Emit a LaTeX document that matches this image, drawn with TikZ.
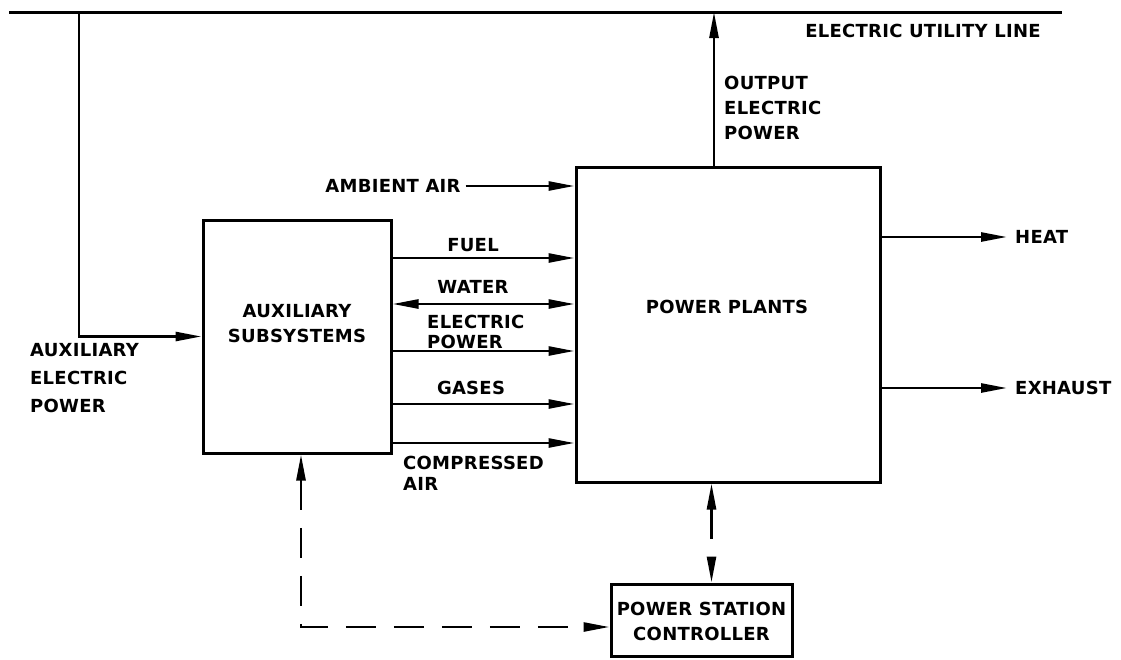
\documentclass[tikz,border=0pt]{standalone}
\usepackage{fontspec}
\newfontfamily\lblfont[LetterSpace=1.5]{DejaVu Sans}
\usetikzlibrary{arrows.meta}

\begin{document}
\begin{tikzpicture}[x=1pt,y=-1pt,
  box/.style={draw, line width=3pt, inner sep=0pt},
  txt/.style={font=\lblfont\bfseries\fontsize{18}{25}\selectfont, inner sep=0pt},
  arr/.style={line width=2.6pt, -{Triangle[length=26pt,width=9pt]}},
  biarr/.style={line width=2.6pt, {Triangle[length=26pt,width=9pt]}-{Triangle[length=26pt,width=9pt]}},
  dsh/.style={line width=2.6pt, dash pattern=on 30pt off 18pt}]
\useasboundingbox (0,0) rectangle (1121,659);
\node[box, minimum width=188, minimum height=233] (aux) at (297,336.5) {};
\node[txt, align=center] at (297,324) {AUXILIARY\\SUBSYSTEMS};
\node[box, minimum width=304, minimum height=315] (pp) at (728,324.5) {};
\node[txt] at (727,307) {POWER PLANTS};
\node[box, minimum width=181, minimum height=72] (ctl) at (701.5,620) {};
\node[txt, align=center] at (701.5,621) {POWER STATION\\CONTROLLER};
\coordinate (ul) at (9,12);
\coordinate (ur) at (1062,12);
\coordinate (tap) at (79,12);
\coordinate (outtop) at (714,12);
\draw[line width=3pt] (ul) -- (ur);
\node[txt] (eul) at (923,31) {ELECTRIC UTILITY LINE};
\draw[arr] (pp.north -| outtop) -- (outtop);
\node[txt, anchor=west, align=left] at (724,108) {OUTPUT\\ELECTRIC\\POWER};
\draw[arr] (tap) |- (aux.west);
\node[txt, anchor=west, align=left, font=\lblfont\bfseries\fontsize{18}{28}\selectfont] at (30,378) {AUXILIARY\\ELECTRIC\\POWER};
\node[txt, inner sep=5pt] (amb) at (393,186) {AMBIENT AIR};
\draw[arr] (amb.east) -- (amb.east -| pp.west);
\foreach \y in {258,351,404,443}
  \draw[arr] (aux.east |- 0,\y) -- (pp.west |- 0,\y);
\draw[biarr] (aux.east |- 0,304) -- (pp.west |- 0,304);
\node[txt] at (473,245) {FUEL};
\node[txt] at (473,287) {WATER};
\node[txt, anchor=west, align=left, font=\lblfont\bfseries\fontsize{18}{20}\selectfont] at (427,332) {ELECTRIC\\POWER};
\node[txt] at (471,388) {GASES};
\node[txt, anchor=west, align=left, font=\lblfont\bfseries\fontsize{18}{21}\selectfont] at (403,473) {COMPRESSED\\AIR};
\node[txt, anchor=west] (heat) at (1015,237) {HEAT};
\node[txt, anchor=west] (exh) at (1015,388) {EXHAUST};
\draw[arr] (pp.east |- heat) -- ([xshift=-8pt]heat.west);
\draw[arr] (pp.east |- exh) -- ([xshift=-8pt]exh.west);
\draw[dsh, biarr] ([xshift=10pt]ctl.north |- pp.south) -- ([xshift=10pt]ctl.north);
\draw[dsh, biarr] ([xshift=4pt]aux.south) |- ([yshift=-7pt]ctl.west);
\end{tikzpicture}
\end{document}
